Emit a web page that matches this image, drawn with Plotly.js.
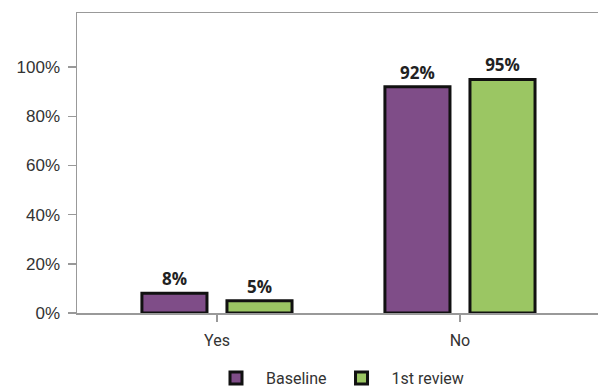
<!DOCTYPE html>
<html><head><meta charset="utf-8">
<script src="https://cdn.plot.ly/plotly-3.0.1.min.js"></script>
<style>body{margin:0;background:#fff}#c{width:598px;height:387px}</style>
</head><body><div id="c"></div>
<script>
const categories = ["Yes", "No"];
const seriesNames = ["Baseline", "1st review"];
const baseline = [8, 92];
const firstReview = [5, 95];
const yTickVals = [0, 20, 40, 60, 80, 100];
const yTickText = ["0%", "20%", "40%", "60%", "80%", "100%"];

const colors = ["#7F4D88", "#9BC663"];
const mk = (name, vals, col) => ({
  type: "bar", name: name, x: categories, y: vals,
  marker: {color: col, line: {color: "#111", width: 3}},
  text: vals.map(v => v + "%"), textposition: "outside", cliponaxis: false,
  textfont: {family: "Open Sans", size: 17, color: "#222", weight: "bold"},
  hoverinfo: "skip"
});
const data = [mk(seriesNames[0], baseline, colors[0]), mk(seriesNames[1], firstReview, colors[1])];

const layout = {
  width: 598, height: 387,
  margin: {l: 77, r: 0, t: 13, b: 74, autoexpand: false},
  paper_bgcolor: "#fff", plot_bgcolor: "#fff",
  barmode: "group", bargap: 0.30, bargroupgap: 0.235,
  font: {family: "Roboto", size: 16, color: "#333"},
  showlegend: true,
  legend: {orientation: "h", x: 0.5, xanchor: "center", y: -0.217, yanchor: "middle",
           font: {family: "Roboto", size: 16, color: "#333"}, itemwidth: 50},
  xaxis: {type: "category", range: [-0.576, 1.568], showline: true, mirror: true,
          linecolor: "#999", linewidth: 1.5, ticks: "outside", ticklen: 7, tickcolor: "#999",
          tickwidth: 1.5, showgrid: false, zeroline: false, fixedrange: true, ticklabelstandoff: 5,
          tickfont: {family: "Roboto", size: 16, color: "#333"}},
  yaxis: {range: [0, 122], tickvals: yTickVals, ticktext: yTickText, showline: true,
          linecolor: "#999", linewidth: 1.5, ticks: "outside", ticklen: 8, tickcolor: "#999",
          tickwidth: 1.5, showgrid: false, zeroline: false, fixedrange: true, ticklabelstandoff: 4,
          tickfont: {family: "Liberation Sans", size: 17, color: "#333"}}
};
Plotly.newPlot("c", data, layout, {staticPlot: true});
</script></body></html>
